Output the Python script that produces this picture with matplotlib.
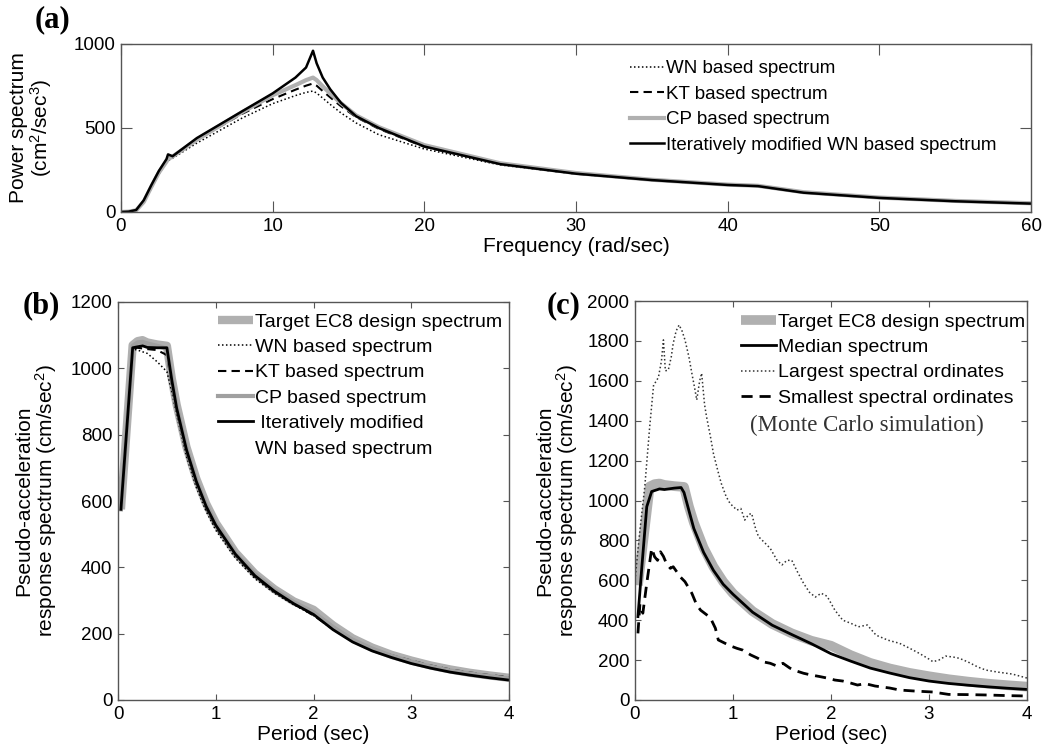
import matplotlib
matplotlib.use("Agg")
import matplotlib.pyplot as plt
from matplotlib.lines import Line2D

# ---------------- Panel (a) data: power spectra ----------------
freq_a = [0, 0.5, 1.0, 1.5, 2.0, 2.5, 3.0, 3.1, 3.4, 5, 8, 10, 11.5, 12.2, 12.66,
          12.9, 13.3, 13.8, 14.5, 15.5, 17, 20, 25, 30, 35, 40, 42, 45, 50, 55, 60]
wn_a = [0, 1, 8, 55, 140, 225, 295, 305, 320, 410, 560, 645, 693, 712, 720,
        708, 678, 640, 590, 530, 460, 375, 280, 226, 189, 160, 153, 115, 84, 64, 50]
kt_a = [0, 2, 12, 65, 155, 240, 305, 320, 330, 430, 585, 672, 728, 752, 765,
        752, 720, 682, 630, 565, 495, 388, 285, 228, 190, 161, 154, 116, 84, 64, 50]
cp_a = [0, 2, 10, 60, 150, 235, 300, 315, 330, 430, 595, 695, 755, 785, 800,
        785, 748, 705, 648, 575, 505, 398, 290, 232, 192, 163, 156, 118, 86, 66, 52]
iter_a = [0, 2, 12, 70, 160, 245, 315, 343, 332, 440, 600, 706, 800, 860, 960,
          885, 800, 730, 650, 570, 500, 390, 285, 228, 190, 161, 154, 115, 84, 64, 50]

# ---------------- Panel (b) data: response spectra ----------------
period_b = [0.03, 0.15, 0.2, 0.25, 0.3, 0.4, 0.5, 0.55, 0.6, 0.7, 0.8, 0.9, 1.0,
            1.2, 1.4, 1.6, 1.8, 2.0, 2.2, 2.4, 2.6, 2.8, 3.0, 3.2, 3.4, 3.6, 3.8, 4.0]
target_b = [575, 1070, 1082, 1085, 1078, 1072, 1068, 970, 890, 763, 668, 593, 534,
            445, 381, 334, 297, 272, 225, 186, 158, 136, 119, 104, 92, 82, 74, 67]
wn_b = [575, 1058, 1055, 1050, 1045, 1020, 990, 930, 860, 735, 642, 570, 512,
        428, 366, 322, 287, 255, 212, 176, 151, 131, 116, 101, 89, 80, 72, 65]
kt_b = [575, 1060, 1062, 1060, 1058, 1055, 1040, 950, 870, 748, 655, 580, 522,
        437, 372, 326, 290, 255, 214, 180, 155, 135, 119, 104, 92, 83, 75, 69]
cp_b = [575, 1068, 1078, 1080, 1075, 1068, 1060, 970, 885, 760, 665, 590, 532,
        443, 380, 332, 295, 265, 220, 182, 155, 133, 116, 101, 89, 80, 72, 65]
iter_b = [575, 1062, 1065, 1068, 1063, 1062, 1062, 965, 880, 755, 660, 585, 527,
          440, 375, 328, 290, 258, 212, 175, 148, 128, 110, 96, 84, 75, 67, 60]

# ---------------- Panel (c) data: Monte Carlo ----------------
period_med = [0.03, 0.07, 0.12, 0.17, 0.25, 0.3, 0.4, 0.47, 0.5, 0.55, 0.6, 0.7, 0.8,
              0.9, 1.0, 1.2, 1.4, 1.6, 1.8, 2.0, 2.2, 2.4, 2.6, 2.8, 3.0, 3.2, 3.4,
              3.6, 3.8, 4.0]
median_c = [418, 668, 969, 1045, 1058, 1055, 1062, 1065, 1040, 950, 860, 740, 650,
            580, 530, 440, 375, 328, 282, 232, 195, 160, 135, 112, 95, 83, 74,
            66, 59, 53]
period_max = [0.0, 0.05, 0.1, 0.15, 0.19, 0.22, 0.24, 0.27, 0.29, 0.31, 0.34, 0.37,
              0.39, 0.42, 0.45, 0.48, 0.51, 0.55, 0.58, 0.61, 0.63, 0.66, 0.68, 0.71,
              0.73, 0.77, 0.80, 0.85, 0.88, 0.93, 0.97, 1.04, 1.08, 1.12, 1.16, 1.19,
              1.23, 1.26, 1.32, 1.38, 1.45, 1.50, 1.55, 1.60, 1.66, 1.72, 1.78, 1.84,
              1.90, 1.96, 2.04, 2.12, 2.2, 2.28, 2.37, 2.46, 2.58, 2.7, 2.8, 2.9, 3.0,
              3.04, 3.1, 3.17, 3.25, 3.31, 3.4, 3.5, 3.58, 3.7, 3.85, 4.0]
largest_c = [600, 850, 1070, 1370, 1580, 1600, 1620, 1700, 1805, 1650, 1654, 1720,
             1788, 1850, 1880, 1850, 1805, 1720, 1638, 1560, 1504, 1600, 1638, 1480,
             1420, 1320, 1236, 1140, 1086, 1020, 985, 952, 960, 902, 930, 935,
             860, 819, 790, 760, 700, 677, 700, 700, 640, 585, 540, 516,
             535, 520, 450, 400, 385, 367, 376, 325, 300, 284, 260, 234, 205,
             192, 200, 220, 215, 209, 190, 165, 150, 140, 130, 110]
period_min = [0.03, 0.05, 0.08, 0.12, 0.17, 0.2, 0.23, 0.26, 0.29, 0.32, 0.36, 0.39,
              0.43, 0.46, 0.51, 0.55, 0.58, 0.63, 0.67, 0.71, 0.75, 0.78, 0.82, 0.85,
              0.92, 0.98, 1.04, 1.1, 1.18, 1.25, 1.32, 1.38, 1.45, 1.51, 1.58, 1.65,
              1.72, 1.8, 1.88, 1.96, 2.04, 2.12, 2.2, 2.27, 2.35, 2.45, 2.6, 2.7, 2.85,
              3.04, 3.2, 3.4, 3.6, 3.8, 4.0]
smallest_c = [334, 480, 435, 585, 760, 718, 700, 743, 720, 685, 660, 668,
              640, 618, 593, 560, 535, 476, 450, 435, 420, 401, 360, 301,
              284, 270, 259, 250, 226, 210, 190, 184, 170, 184, 160, 145,
              134, 125, 118, 110, 100, 95, 85, 75, 82, 70, 60, 50, 45,
              40, 28, 27, 25, 22, 20]

SANS = "Liberation Sans"
SERIF = "Liberation Serif"
plt.rcParams["font.family"] = [SANS, "DejaVu Sans"]
plt.rcParams["mathtext.fontset"] = "custom"
plt.rcParams["mathtext.rm"] = SANS
plt.rcParams["mathtext.it"] = SANS

SPINE = "#555555"
GRAY = "#b0b0b0"
TICK_FS = 13.5
LAB_FS = 15
LEG_FS = 14

fig = plt.figure(figsize=(10.52, 7.53), dpi=100)
W, H = 1052, 753


def axes_px(l, t, r, b):
    return fig.add_axes([l / W, 1 - b / H, (r - l) / W, (b - t) / H])


def style(ax, ticklen):
    for s in ax.spines.values():
        s.set_color(SPINE)
        s.set_linewidth(1.0)
    ax.tick_params(direction="in", top=True, right=True, length=ticklen,
                   width=0.8, color=SPINE, labelsize=TICK_FS, pad=4)


LEG_KW = dict(frameon=False, fontsize=LEG_FS, handlelength=1.8, handletextpad=0.1,
              labelspacing=0.4, borderpad=0, borderaxespad=0, loc="upper left")

# ---------------- (a) ----------------
axa = axes_px(121, 44, 1031, 212)
axa.plot(freq_a, wn_a, color="black", lw=1.1, ls=(0, (1, 1.6)), label="WN based spectrum")
axa.plot(freq_a, kt_a, color="black", lw=1.5, ls=(0, (4, 2.5)), label="KT based spectrum")
axa.plot(freq_a, cp_a, color=GRAY, lw=3, label="CP based spectrum")
axa.plot(freq_a, iter_a, color="black", lw=1.8, label="Iteratively modified WN based spectrum")
axa.set_xlim(0, 60)
axa.set_ylim(0, 1000)
axa.set_xticks([0, 10, 20, 30, 40, 50, 60])
axa.set_yticks([0, 500, 1000])
style(axa, 8)
axa.set_xlabel("Frequency (rad/sec)", fontsize=LAB_FS, labelpad=2)
axa.set_ylabel("Power spectrum\n(cm$^2$/sec$^3$)", fontsize=LAB_FS, linespacing=1.0)
axa.yaxis.set_label_coords(-0.074, 0.5)
kw_a = dict(LEG_KW)
kw_a["fontsize"] = 13.5
kw_a["labelspacing"] = 0.45
axa.legend(bbox_to_anchor=((630 - 121) / 910, 1 - (60 - 44) / 168), **kw_a)
fig.text(53 / W, 1 - 20 / H, "(a)", fontsize=22, fontweight="bold",
         family=SERIF, va="center", ha="center")

# ---------------- (b) ----------------
axb = axes_px(118, 302, 509, 700)
axb.plot(period_b, target_b, color=GRAY, lw=6, solid_capstyle="butt",
         label="Target EC8 design spectrum")
axb.plot(period_b, wn_b, color="black", lw=1.1, ls=(0, (1, 1.6)), label="WN based spectrum")
axb.plot(period_b, kt_b, color="black", lw=1.5, ls=(0, (4, 2.5)), label="KT based spectrum")
axb.plot(period_b, cp_b, color="#a0a0a0", lw=3, label="CP based spectrum")
axb.plot(period_b, iter_b, color="black", lw=2, label=" Iteratively modified")
blank = Line2D([], [], color="none")
hb, lb = axb.get_legend_handles_labels()
hb.append(blank)
lb.append("WN based spectrum")
axb.set_xlim(0, 4)
axb.set_ylim(0, 1200)
axb.set_xticks([0, 1, 2, 3, 4])
axb.set_yticks(range(0, 1201, 200))
style(axb, 4)
axb.set_xlabel("Period (sec)", fontsize=LAB_FS, labelpad=2)
axb.set_ylabel("Pseudo-acceleration\nresponse spectrum (cm/sec$^2$)", fontsize=LAB_FS,
               linespacing=1.0)
axb.yaxis.set_label_coords(-0.15, 0.5)
axb.legend(hb, lb, bbox_to_anchor=((218 - 118) / 391, 1 - (313 - 302) / 398), **LEG_KW)
fig.text(41 / W, 1 - 306 / H, "(b)", fontsize=22, fontweight="bold",
         family=SERIF, va="center", ha="center")

# ---------------- (c) ----------------
axc = axes_px(635, 301, 1027, 700)
axc.plot(period_b, target_b, color=GRAY, lw=7, solid_capstyle="butt",
         label="Target EC8 design spectrum")
axc.plot(period_med, median_c, color="black", lw=2, label="Median spectrum")
axc.plot(period_max, largest_c, color="#333333", lw=1.1, ls=(0, (1, 1.6)),
         label="Largest spectral ordinates")
axc.plot(period_min, smallest_c, color="black", lw=2, ls=(0, (4, 2.5)),
         label="Smallest spectral ordinates")
axc.set_xlim(0, 4)
axc.set_ylim(0, 2000)
axc.set_xticks([0, 1, 2, 3, 4])
axc.set_yticks(range(0, 2001, 200))
style(axc, 4)
axc.set_xlabel("Period (sec)", fontsize=LAB_FS, labelpad=2)
axc.set_ylabel("Pseudo-acceleration\nresponse spectrum (cm/sec$^2$)", fontsize=LAB_FS,
               linespacing=1.0)
axc.yaxis.set_label_coords(-0.14, 0.5)
axc.legend(bbox_to_anchor=((741 - 635) / 392, 1 - (313 - 301) / 399), **LEG_KW)
axc.text((867 - 635) / 392, 1 - (425 - 301) / 399, "(Monte Carlo simulation)",
         transform=axc.transAxes, family=SERIF, fontsize=16.5, color="#333333",
         ha="center", va="center")
fig.text(564 / W, 1 - 306 / H, "(c)", fontsize=22, fontweight="bold",
         family=SERIF, va="center", ha="center")

fig.savefig("out.png", dpi=100)
